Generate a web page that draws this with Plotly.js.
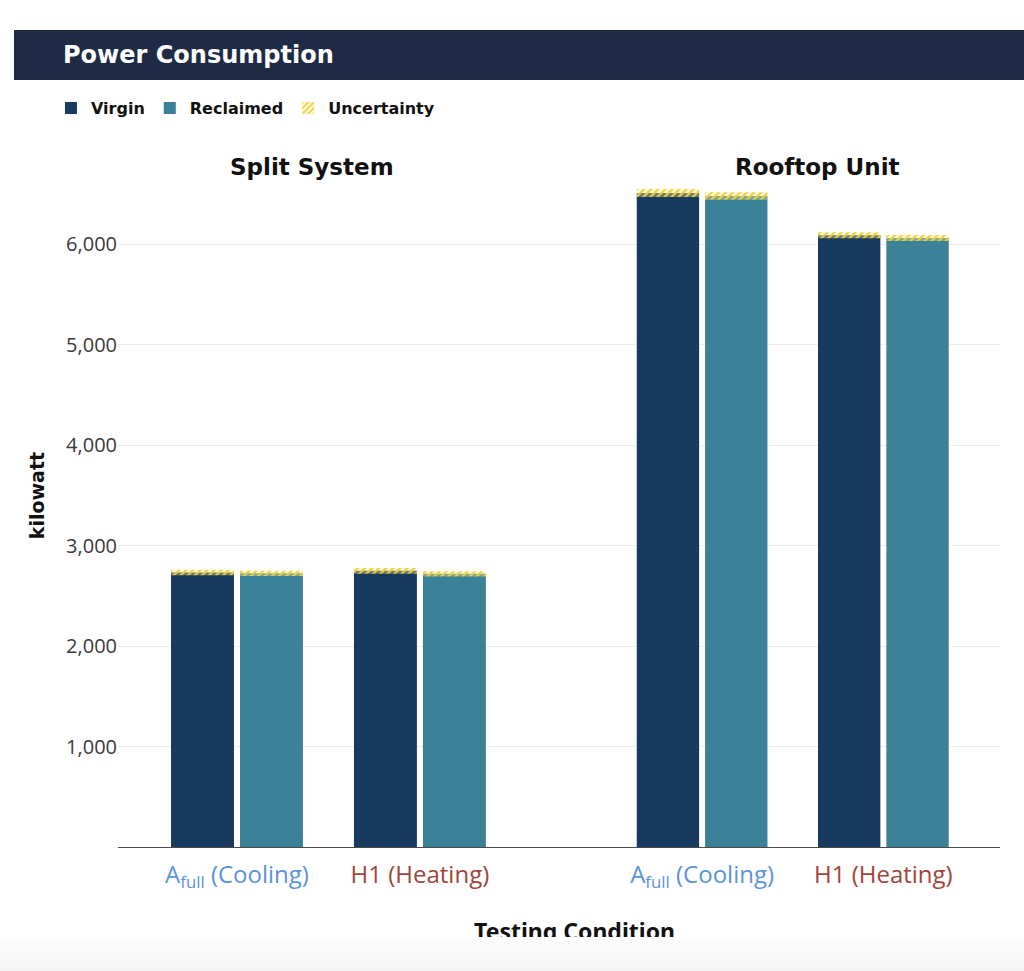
<!DOCTYPE html>
<html>
<head>
<meta charset="utf-8">
<script src="https://cdn.plot.ly/plotly-3.0.1.min.js"></script>
<style>
  html, body { margin: 0; padding: 0; background: #ffffff; }
  #wrap { position: relative; width: 1024px; height: 971px; overflow: hidden; }
  #chart { width: 1024px; height: 971px; }
  #fade { position: absolute; left: 0; top: 937px; width: 1024px; height: 34px;
          background: linear-gradient(#fdfdfd, #f4f4f4); pointer-events: none; }
</style>
</head>
<body>
<div id="wrap">
  <div id="chart"></div>
  <div id="fade"></div>
</div>
<script>
// ---------------- data ----------------
const chartTitle = 'Power Consumption';
const systems = ['Split System', 'Rooftop Unit'];
const conditions = ['Afull (Cooling)', 'H1 (Heating)'];
const conditionLabels = [
  '<span style="color:#5b93dc">A<sub>full</sub> (Cooling)</span>',
  '<span style="color:#a2443c">H1 (Heating)</span>'
];
const seriesNames = ['Virgin', 'Reclaimed', 'Uncertainty'];
const yTickValues = [1000, 2000, 3000, 4000, 5000, 6000];

// kilowatt values
const splitVirgin = [2733, 2750];
const splitReclaimed = [2725, 2720];
const rooftopVirgin = [6512, 6091];
const rooftopReclaimed = [6482, 6064];

// +/- uncertainty (kilowatt)
const splitVirginUnc = [28, 28];
const splitReclaimedUnc = [26, 26];
const rooftopVirginUnc = [40, 30];
const rooftopReclaimedUnc = [38, 30];

const yTitle = 'kilowatt';
const xTitle = 'Testing Condition';

// ---------------- styles ----------------
const virginColor = '#173a5e';
const reclaimedColor = '#3b8197';
const uncColor = '#f1cf3c';
const BOLD = 'DejaVu Sans, Noto Sans, sans-serif';
const FONT = 'Open Sans, Noto Sans, sans-serif';

function barTrace(name, xs, ys, color, xaxis, group, show) {
  return {
    type: 'bar', name: name, x: xs, y: ys, xaxis: xaxis, yaxis: 'y',
    offsetgroup: group, legendgroup: name, showlegend: show,
    marker: { color: color, line: { width: 0 } },
    hoverinfo: 'y+name'
  };
}
function uncTrace(xs, vals, unc, xaxis, group, show) {
  return {
    type: 'bar', name: seriesNames[2], x: xs,
    y: unc.map(u => 2 * u),
    base: vals.map((v, i) => v - unc[i]),
    xaxis: xaxis, yaxis: 'y', offsetgroup: group,
    legendgroup: 'unc', showlegend: show,
    marker: {
      color: uncColor,
      line: { width: 0 },
      pattern: { shape: '/', fgcolor: uncColor, bgcolor: 'rgba(255,236,140,0.35)', size: 5, solidity: 0.45 }
    },
    hoverinfo: 'skip'
  };
}

const data = [
  // empty trace that only makes the full-width base axis (x axis line + gridlines) exist
  { type: 'scatter', mode: 'markers', x: [], y: [], xaxis: 'x', yaxis: 'y', showlegend: false, hoverinfo: 'skip' },
  barTrace(seriesNames[0], conditions, splitVirgin, virginColor, 'x2', 'v', true),
  barTrace(seriesNames[1], conditions, splitReclaimed, reclaimedColor, 'x2', 'r', true),
  uncTrace(conditions, splitVirgin, splitVirginUnc, 'x2', 'v', true),
  uncTrace(conditions, splitReclaimed, splitReclaimedUnc, 'x2', 'r', false),
  barTrace(seriesNames[0], conditions, rooftopVirgin, virginColor, 'x3', 'v', false),
  barTrace(seriesNames[1], conditions, rooftopReclaimed, reclaimedColor, 'x3', 'r', false),
  uncTrace(conditions, rooftopVirgin, rooftopVirginUnc, 'x3', 'v', false),
  uncTrace(conditions, rooftopReclaimed, rooftopReclaimedUnc, 'x3', 'r', false)
];

const catAxis = (domain) => ({
  domain: domain, type: 'category', anchor: 'y',
  categoryorder: 'array', categoryarray: conditions,
  tickvals: conditions, ticktext: conditionLabels,
  tickfont: { family: FONT, size: 24 },
  ticks: 'outside', ticklen: 6, tickcolor: 'rgba(0,0,0,0)',
  showgrid: false, showline: false, zeroline: false, fixedrange: true
});

const layout = {
  width: 1024, height: 971,
  margin: { l: 118, r: 24, t: 144, b: 124 },
  paper_bgcolor: '#ffffff', plot_bgcolor: 'rgba(0,0,0,0)',
  font: { family: FONT, color: '#222' },
  title: {
    text: chartTitle,
    font: { family: BOLD, size: 24, color: '#ffffff', weight: 'bold' },
    x: 63 / 1024, xref: 'container', xanchor: 'left',
    y: 1 - 55 / 971, yref: 'container', yanchor: 'middle'
  },
  barmode: 'group', bargap: 0.246, bargroupgap: 0.087,
  showlegend: true,
  legend: {
    orientation: 'h', x: -0.076, xanchor: 'left', y: 1.051, yanchor: 'middle',
    font: { family: BOLD, size: 16, color: '#111', weight: 'bold' },
    traceorder: 'normal', itemwidth: 30, bgcolor: 'rgba(0,0,0,0)'
  },
  xaxis: {
    domain: [0, 1], range: [0, 1], anchor: 'y',
    showticklabels: false, showgrid: false, zeroline: false,
    showline: true, linecolor: '#4a4a4a', linewidth: 1, ticks: '', fixedrange: true
  },
  xaxis2: catAxis([0.0312, 0.446]),
  xaxis3: catAxis([0.5595, 0.9705]),
  yaxis: {
    range: [0, 7000], tickvals: yTickValues, tickformat: ',d',
    showgrid: true, gridcolor: '#ececec', gridwidth: 1,
    zeroline: false, showline: false, ticks: '',
    tickfont: { family: FONT, size: 20, color: '#3a3a3a' },
    title: { text: yTitle, font: { family: BOLD, size: 19, color: '#111', weight: 'bold' }, standoff: 16 },
    fixedrange: true
  },
  shapes: [{
    type: 'rect', xref: 'paper', yref: 'paper', layer: 'below',
    x0: (14 - 118) / 882, x1: (1024 - 118) / 882,
    y0: (847 - 80) / 703, y1: (847 - 30) / 703,
    fillcolor: '#1f2b45', line: { width: 0 }
  }],
  annotations: [
    { text: systems[0], xref: 'paper', yref: 'paper', x: (312 - 118) / 882, y: (847 - 167) / 703,
      xanchor: 'center', yanchor: 'middle', showarrow: false,
      font: { family: BOLD, size: 23, color: '#111', weight: 'bold' } },
    { text: systems[1], xref: 'paper', yref: 'paper', x: (817 - 118) / 882, y: (847 - 167) / 703,
      xanchor: 'center', yanchor: 'middle', showarrow: false,
      font: { family: BOLD, size: 23, color: '#111', weight: 'bold' } },
    { text: xTitle, xref: 'paper', yref: 'paper', x: (574 - 118) / 882, y: (847 - 931) / 703,
      xanchor: 'center', yanchor: 'middle', showarrow: false,
      font: { family: 'Noto Sans, sans-serif', size: 23, color: '#111', weight: 'bold' } }
  ]
};

Plotly.newPlot('chart', data, layout, { displayModeBar: false, staticPlot: true });
</script>
</body>
</html>
